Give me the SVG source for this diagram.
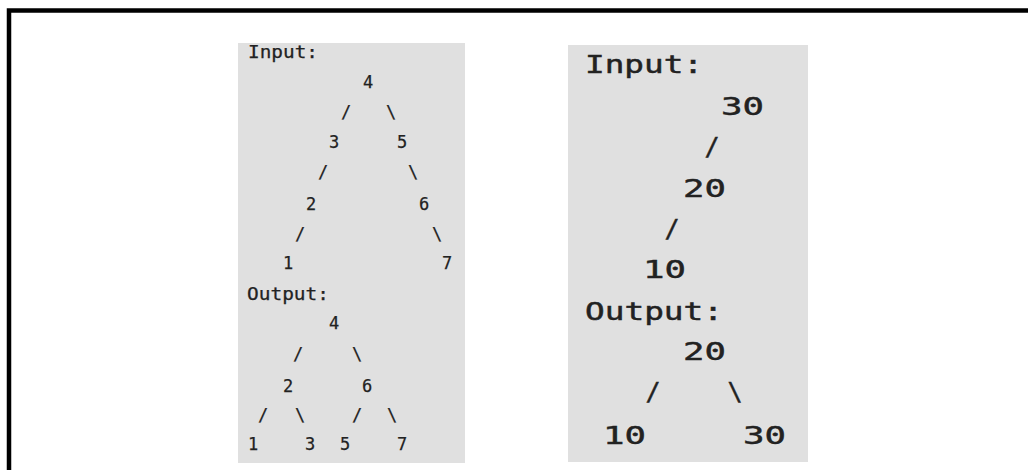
<svg xmlns="http://www.w3.org/2000/svg" width="1028" height="470" viewBox="0 0 1028 470">
<style>
.panel{fill:#e0e0e0}
.s{font-family:"DejaVu Sans Mono","Liberation Mono",monospace;font-size:17px;fill:#222;stroke:#222;stroke-width:0.25px}
.b{font-family:"DejaVu Sans Mono","Liberation Mono",monospace;font-size:25px;fill:#222;stroke:#222;stroke-width:0.45px}
.m{text-anchor:middle}
</style>
<rect width="1028" height="470" fill="#ffffff"/>
<path d="M9,470 V10.5 H1028" fill="none" stroke="#000" stroke-width="4.5" stroke-linejoin="miter"/>
<g id="left-panel">
<rect class="panel" x="238" y="43" width="227" height="420"/>
<text class="s" x="248" y="58" textLength="70" lengthAdjust="spacingAndGlyphs">Input:</text>
<text class="s m" x="368" y="88">4</text>
<text class="s m" x="346" y="118">/</text>
<text class="s m" x="391" y="118">\</text>
<text class="s m" x="334" y="148">3</text>
<text class="s m" x="402" y="148">5</text>
<text class="s m" x="323" y="178">/</text>
<text class="s m" x="413" y="178">\</text>
<text class="s m" x="311" y="210">2</text>
<text class="s m" x="424" y="210">6</text>
<text class="s m" x="300" y="240">/</text>
<text class="s m" x="437" y="240">\</text>
<text class="s m" x="288" y="269">1</text>
<text class="s m" x="447" y="269">7</text>
<text class="s" x="247" y="300" textLength="82" lengthAdjust="spacingAndGlyphs">Output:</text>
<text class="s m" x="334" y="329">4</text>
<text class="s m" x="298" y="360">/</text>
<text class="s m" x="357" y="360">\</text>
<text class="s m" x="288" y="392">2</text>
<text class="s m" x="367" y="392">6</text>
<text class="s m" x="263" y="421">/</text>
<text class="s m" x="300" y="421">\</text>
<text class="s m" x="357" y="421">/</text>
<text class="s m" x="392" y="421">\</text>
<text class="s m" x="253" y="450">1</text>
<text class="s m" x="310" y="450">3</text>
<text class="s m" x="345" y="450">5</text>
<text class="s m" x="402" y="450">7</text>
</g>
<g id="right-panel">
<rect class="panel" x="568" y="45" width="240" height="417"/>
<text class="b" x="585" y="73" textLength="118" lengthAdjust="spacingAndGlyphs">Input:</text>
<text class="b" x="721" y="115" textLength="43" lengthAdjust="spacingAndGlyphs">30</text>
<text class="b m" x="712" y="155">/</text>
<text class="b" x="683" y="197" textLength="43" lengthAdjust="spacingAndGlyphs">20</text>
<text class="b m" x="672" y="237">/</text>
<text class="b" x="643" y="278" textLength="43" lengthAdjust="spacingAndGlyphs">10</text>
<text class="b" x="585" y="320" textLength="138" lengthAdjust="spacingAndGlyphs">Output:</text>
<text class="b" x="683" y="360" textLength="43" lengthAdjust="spacingAndGlyphs">20</text>
<text class="b m" x="653" y="400">/</text>
<text class="b m" x="735" y="400">\</text>
<text class="b" x="603" y="444" textLength="43" lengthAdjust="spacingAndGlyphs">10</text>
<text class="b" x="743" y="444" textLength="43" lengthAdjust="spacingAndGlyphs">30</text>
</g>
</svg>
